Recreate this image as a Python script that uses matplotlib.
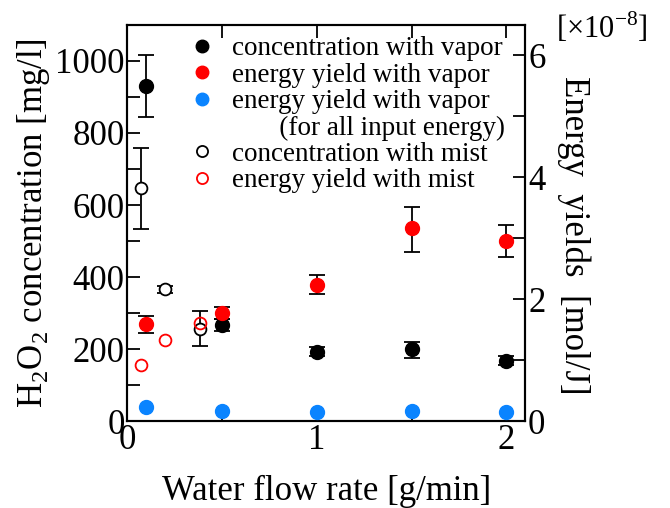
import numpy as np
import matplotlib
matplotlib.use("Agg")
import matplotlib.pyplot as plt
from matplotlib.lines import Line2D
from matplotlib.ticker import MultipleLocator

plt.rcParams["font.family"] = ["Liberation Serif", "DejaVu Serif"]
plt.rcParams["mathtext.fontset"] = "custom"
plt.rcParams["mathtext.rm"] = "Liberation Serif"

# concentration with vapor [mg/l]
flow_vapor = [0.1, 0.5, 1.0, 1.5, 2.0]
conc_vapor = [931, 267, 193, 199, 168]
conc_vapor_lo = [88, 17, 12, 23, 12]
conc_vapor_hi = [85, 17, 12, 22, 12]

# energy yield with vapor [x1e-8 mol/J]
ey_vapor = [1.59, 1.78, 2.24, 3.16, 2.96]
ey_vapor_lo = [0.15, 0.10, 0.16, 0.38, 0.27]
ey_vapor_hi = [0.13, 0.10, 0.15, 0.35, 0.25]

# energy yield with vapor for all input energy [x1e-8 mol/J]
ey_vapor_all = [0.235, 0.17, 0.153, 0.17, 0.153]

# mist data
flow_mist = [0.07, 0.2, 0.385]
conc_mist = [648, 366, 257]
conc_mist_lo = [114, 10, 48]
conc_mist_hi = [109, 10, 48]
ey_mist = [0.92, 1.33, 1.61]

fig = plt.figure(figsize=(6.7, 5.08), dpi=100)
ax = fig.add_axes([0.19, 0.171, 0.594, 0.78])
ax2 = ax.twinx()

eb = dict(fmt="none", ecolor="black", elinewidth=1.3, capsize=6, capthick=1.3)

ax.errorbar(flow_vapor, conc_vapor, yerr=[conc_vapor_lo, conc_vapor_hi], **eb, zorder=2)
ax.plot(flow_vapor, conc_vapor, "o", color="black", ms=10, zorder=3)
ax.errorbar(flow_mist, conc_mist, yerr=[conc_mist_lo, conc_mist_hi], **eb, zorder=2)
ax.plot(flow_mist, conc_mist, "o", mfc="white", mec="black", mew=1.3, ms=8.5, zorder=3)

ax2.errorbar(flow_vapor, ey_vapor, yerr=[ey_vapor_lo, ey_vapor_hi], **eb, zorder=2)
ax2.plot(flow_vapor, ey_vapor, "o", color="#ff0000", ms=10, zorder=3)
ax2.plot(flow_vapor, ey_vapor_all, "o", color="#0a84ff", ms=10, zorder=3)
ax2.plot(flow_mist, ey_mist, "o", mfc="none", mec="#ff0000", mew=1.3, ms=8.5, zorder=3)

ax.set_xlim(0, 2.1)
ax.set_ylim(0, 1100)
ax2.set_ylim(0, 6.5)

ax.xaxis.set_major_locator(MultipleLocator(1))
ax.xaxis.set_minor_locator(MultipleLocator(0.5))
ax.yaxis.set_major_locator(MultipleLocator(200))
ax.yaxis.set_minor_locator(MultipleLocator(100))
ax2.yaxis.set_major_locator(MultipleLocator(2))
ax2.yaxis.set_minor_locator(MultipleLocator(1))

ax.tick_params(axis="both", which="both", direction="in", labelsize=25, width=1.3, pad=2)
ax.tick_params(axis="x", which="both", top=True)
ax.tick_params(which="both", length=9)
ax.tick_params(axis="y", right=False, which="both")
ax2.tick_params(axis="y", which="both", direction="in", labelsize=25, width=1.3, length=9, pad=2)

for a in (ax, ax2):
    for s in a.spines.values():
        s.set_linewidth(1.5)

ax.set_xlabel("Water flow rate [g/min]", fontsize=25, labelpad=13)
ax.set_ylabel("H$_2$O$_2$ concentration [mg/l]", fontsize=25, labelpad=2)
ax2.set_ylabel("Energy  yields  [mol/J]", fontsize=25, rotation=270)
ax2.yaxis.set_label_coords(1.165, 0.47)
fig.text(0.83, 0.945, r"[$\times$10$^{\mathregular{-8}}$]", fontsize=22, ha="left", va="center")

handles = [
    Line2D([], [], ls="none", marker="o", color="black", ms=9),
    Line2D([], [], ls="none", marker="o", color="#ff0000", ms=9),
    Line2D([], [], ls="none", marker="o", color="#0a84ff", ms=9),
    Line2D([], [], ls="none", marker="none"),
    Line2D([], [], ls="none", marker="o", mfc="white", mec="black", mew=1.3, ms=8),
    Line2D([], [], ls="none", marker="o", mfc="white", mec="#ff0000", mew=1.3, ms=8),
]
labels = [
    "concentration with vapor",
    "energy yield with vapor",
    "energy yield with vapor",
    "       (for all input energy)",
    "concentration with mist",
    "energy yield with mist",
]
ax2.legend(handles, labels, loc="upper right", bbox_to_anchor=(0.99, 1.012), frameon=False,
           fontsize=19.5, handlelength=1.0, handletextpad=0.6, labelspacing=0.05,
           borderaxespad=0.2)

fig.savefig("out.png", dpi=100)
